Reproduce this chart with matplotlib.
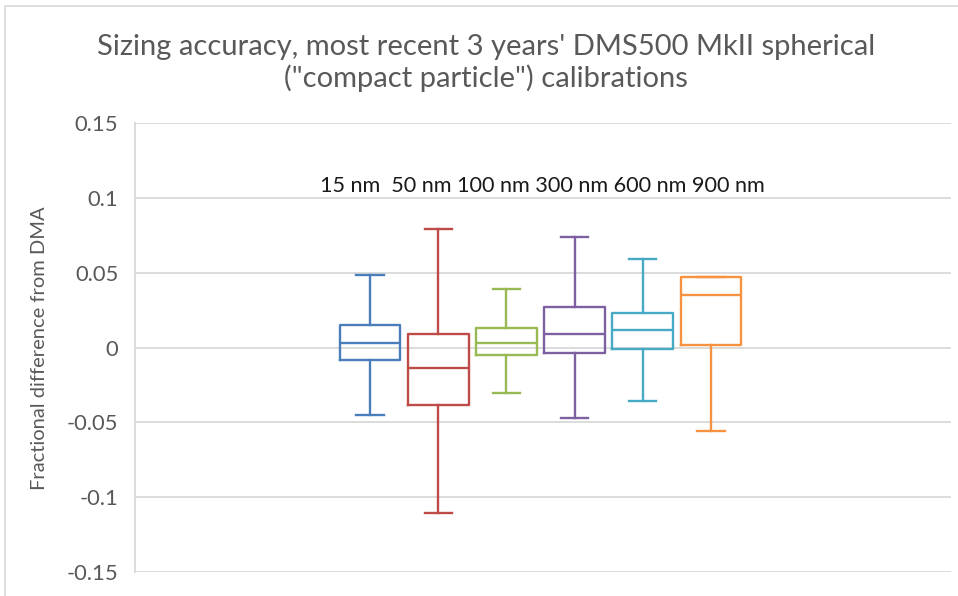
import matplotlib
matplotlib.use("Agg")
import matplotlib.pyplot as plt
from matplotlib.patches import Rectangle

categories = ["15 nm", "50 nm", "100 nm", "300 nm", "600 nm", "900 nm"]
whisker_low = [-0.0453, -0.1105, -0.0307, -0.0473, -0.0360, -0.0556]
q1 = [-0.0084, -0.0382, -0.0051, -0.0036, -0.0013, 0.0016]
median = [0.0031, -0.0140, 0.0031, 0.0093, 0.0120, 0.0349]
q3 = [0.0151, 0.0091, 0.0129, 0.0271, 0.0229, 0.0469]
whisker_high = [0.0487, 0.0793, 0.0389, 0.0736, 0.0589, 0.0469]
colors = ["#4A7EBB", "#BE4B48", "#98B954", "#7D60A0", "#46AAC5", "#F69240"]
yticks = [-0.15, -0.1, -0.05, 0, 0.05, 0.1, 0.15]
ytick_labels = ["-0.15", "-0.1", "-0.05", "0", "0.05", "0.1", "0.15"]

W, H = 958, 596
fig = plt.figure(figsize=(W / 100, H / 100), dpi=100)
fig.patch.set_facecolor("white")
font = "Lato"

ax = fig.add_axes([135 / W, 1 - 572 / H, (951 - 135) / W, (572 - 123) / H])

positions = list(range(1, len(categories) + 1))
for i, pos in enumerate(positions):
    stats = [dict(med=median[i], q1=q1[i], q3=q3[i],
                  whislo=whisker_low[i], whishi=whisker_high[i], fliers=[])]
    c = colors[i]
    lw = 1.7
    ax.bxp(stats, positions=[pos], widths=0.89, showfliers=False,
           boxprops=dict(color=c, linewidth=lw),
           medianprops=dict(color=c, linewidth=lw),
           whiskerprops=dict(color=c, linewidth=lw),
           capprops=dict(color=c, linewidth=lw),
           capwidths=0.4, manage_ticks=False, zorder=3)

ax.set_xlim(1 - (370 - 135) / 68.2, 6 + (951 - 711) / 68.2)
ax.set_ylim(-0.15, 0.15)
ax.set_yticks(yticks)
ax.set_yticklabels(ytick_labels, fontfamily=font, fontsize=15.8, color="#595959")
ax.set_xticks([])
ax.tick_params(axis="y", length=0, pad=12)
ax.yaxis.grid(True, color="#D9D9D9", linewidth=1.3, zorder=0)
ax.set_axisbelow(True)
for s in ["top", "right", "bottom"]:
    ax.spines[s].set_visible(False)
ax.spines["left"].set_color("#D9D9D9")
ax.spines["left"].set_linewidth(1.3)

fig.text(40 / W, 1 - 348 / H, "Fractional difference from DMA", rotation=90,
         ha="center", va="center", fontfamily=font, fontsize=14.5, color="#595959")

fig.text(542 / W, 1 - 186 / H, categories[0] + "  " + " ".join(categories[1:]),
         ha="center", va="center", fontfamily=font, fontsize=15.6, color="#1a1a1a")

fig.text(486 / W, 1 - 63 / H,
         "Sizing accuracy, most recent 3 years' DMS500 MkII spherical\n(\"compact particle\") calibrations",
         ha="center", va="center", fontfamily=font, fontsize=21, color="#595959",
         linespacing=1.22)

fig.add_artist(Rectangle((5 / W, -0.1), 1.2, 1 - 6 / H + 0.1, transform=fig.transFigure,
                         fill=False, edgecolor="#D9D9D9", linewidth=1.2))

fig.savefig("out.png", dpi=100)
